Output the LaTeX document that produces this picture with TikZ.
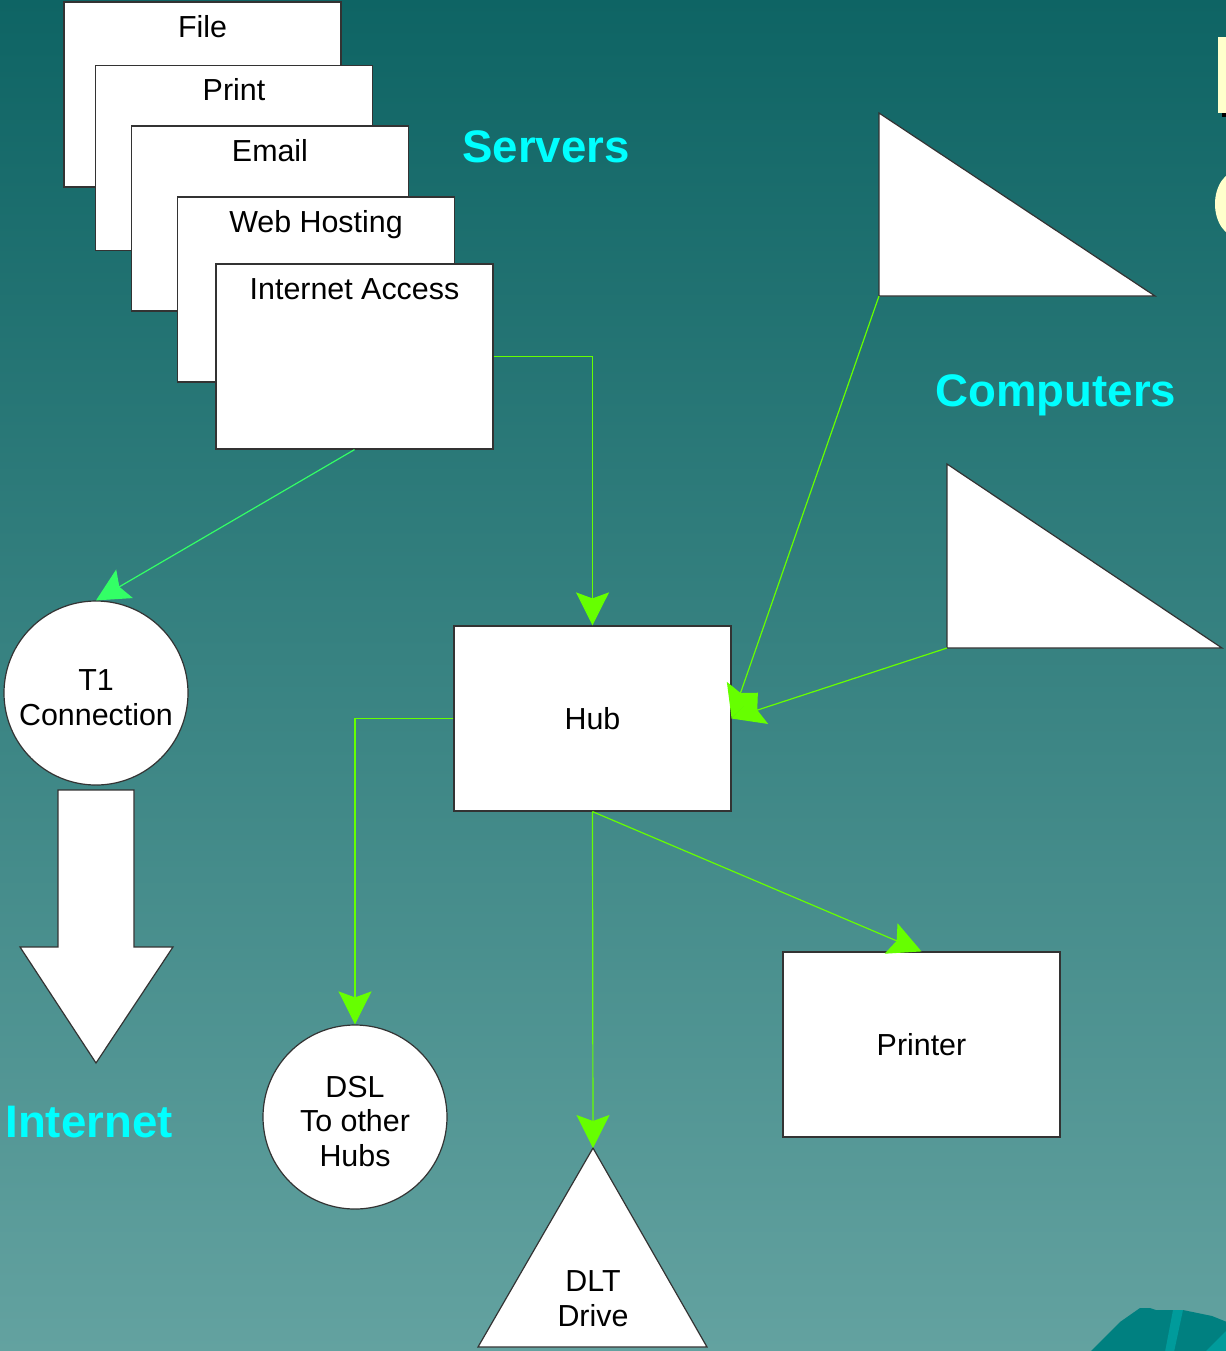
\documentclass[tikz,border=0pt]{standalone}
\usepackage{fontspec}
\setmainfont{Liberation Sans}
\usetikzlibrary{arrows.meta}
\definecolor{bgtop}{RGB}{14,100,100}
\definecolor{bgbot}{RGB}{99,162,160}
\definecolor{lgreen}{RGB}{102,255,0}
\definecolor{mint}{RGB}{51,255,102}
\definecolor{headc}{RGB}{0,255,255}
\definecolor{cream}{RGB}{255,255,204}
\definecolor{tealA}{RGB}{0,128,128}
\definecolor{tealB}{RGB}{0,155,155}
\tikzset{
  lblfont/.style={font=\fontsize{15.2}{17.4}\selectfont},
  srv/.style={draw=black!80, fill=white, line width=0.6pt, minimum width=138.5pt, minimum height=92.5pt, inner sep=0pt},
  srvlbl/.style={anchor=base, yshift=-18pt, lblfont, inner sep=0pt},
  plainbox/.style={draw=black!80, fill=white, line width=0.6pt, minimum width=138.5pt, minimum height=92.5pt, inner sep=0pt, lblfont},
  circ/.style={circle, draw=black!80, fill=white, line width=0.6pt, minimum size=92pt, inner sep=0pt, align=center, lblfont},
  shapeline/.style={draw=black!80, fill=white, line width=0.6pt},
  heading/.style={font=\bfseries\fontsize{22.8}{26}\selectfont, text=headc, inner sep=0pt, text depth=0pt},
  conn/.style={draw=lgreen, line width=0.6pt, -{Stealth[length=16.5pt,width=16.5pt,inset=3pt,fill=lgreen]}},
  connT/.style={draw=mint, line width=0.6pt, -{Stealth[length=16.5pt,width=16.5pt,inset=3pt,fill=mint]}},
}
\begin{document}
\begin{tikzpicture}[x=0.5pt,y=-0.5pt]
\useasboundingbox (0,0) rectangle (1226,1351);
\shade[top color=bgtop, bottom color=bgbot] (0,0) rectangle (1226,1351);

% cut-off decorations
\fill[black] (1222,113) rectangle (1232,117);
\fill[cream] (1218,37) rectangle (1232,113);
\fill[cream] (1238,204) ellipse [x radius=23, y radius=33];
\fill[tealA] (1065,1352) -- (1090,1352) -- (1120,1322) -- (1140,1308) -- (1150,1308) -- (1156,1310) -- (1183,1310) -- (1212,1316) -- (1227,1322) -- (1227,1352) -- cycle;
\fill[tealB] (1173,1310) -- (1183,1310) -- (1174,1352) -- (1165,1352) -- cycle;
\fill[tealB] (1227,1330) -- (1227,1352) -- (1205,1352) -- cycle;

% servers stack
\node[srv, label={[srvlbl]north:File}] (file) at (202.5,94.5) {};
\node[srv, label={[srvlbl]north:Print}] (print) at (234,158) {};
\node[srv, label={[srvlbl]north:Email}] (email) at (270,218.5) {};
\node[srv, label={[srvlbl]north:Web Hosting}] (web) at (316,289.5) {};
\node[srv, label={[srvlbl]north:Internet Access}] (inet) at (354.5,356.5) {};

\node[heading] (servers) at (546,147) {Servers};
\node[heading] (computers) at (1056,391) {Computers};
\node[heading] (internet) at (89,1122) {Internet};

% computers
\path[shapeline] (879,113) -- (879,296) -- (1155,296) -- cycle;
\coordinate (c1) at (879,296);
\path[shapeline] (947,464) -- (947,648) -- (1222,648) -- cycle;
\coordinate (c2) at (947,648);

% hub, printer
\node[plainbox] (hub) at (592.5,718.5) {Hub};
\node[plainbox] (printer) at (921.5,1044.5) {Printer};

% circles
\node[circ] (t1) at (96,693) {\rule{0pt}{15pt}T1\\Connection};
\node[circ] (dsl) at (355,1117) {\rule{0pt}{15pt}DSL\\To other\\Hubs};

% block arrow
\path[shapeline] (58,790) -- (134,790) -- (134,947) -- (173,947) -- (96,1063) -- (20,947) -- (58,947) -- cycle;

% DLT drive
\path[shapeline] (593,1148) -- (707,1347) -- (478,1347) -- cycle;
\coordinate (dltapex) at (593,1148);
\node[lblfont, align=center, inner sep=0pt] (dlt) at (593,1299) {DLT\\Drive};

% connectors
\draw[conn] (inet.east) -| (hub.north);
\draw[connT] (inet.south) -- (t1.north);
\draw[conn] (c1) -- (hub.east);
\draw[conn] (c2) -- (hub.east);
\draw[conn] (hub.west) -| (dsl.north);
\draw[conn] (hub.south) -- (dltapex);
\draw[conn] (hub.south) -- (printer.north);
\end{tikzpicture}
\end{document}
